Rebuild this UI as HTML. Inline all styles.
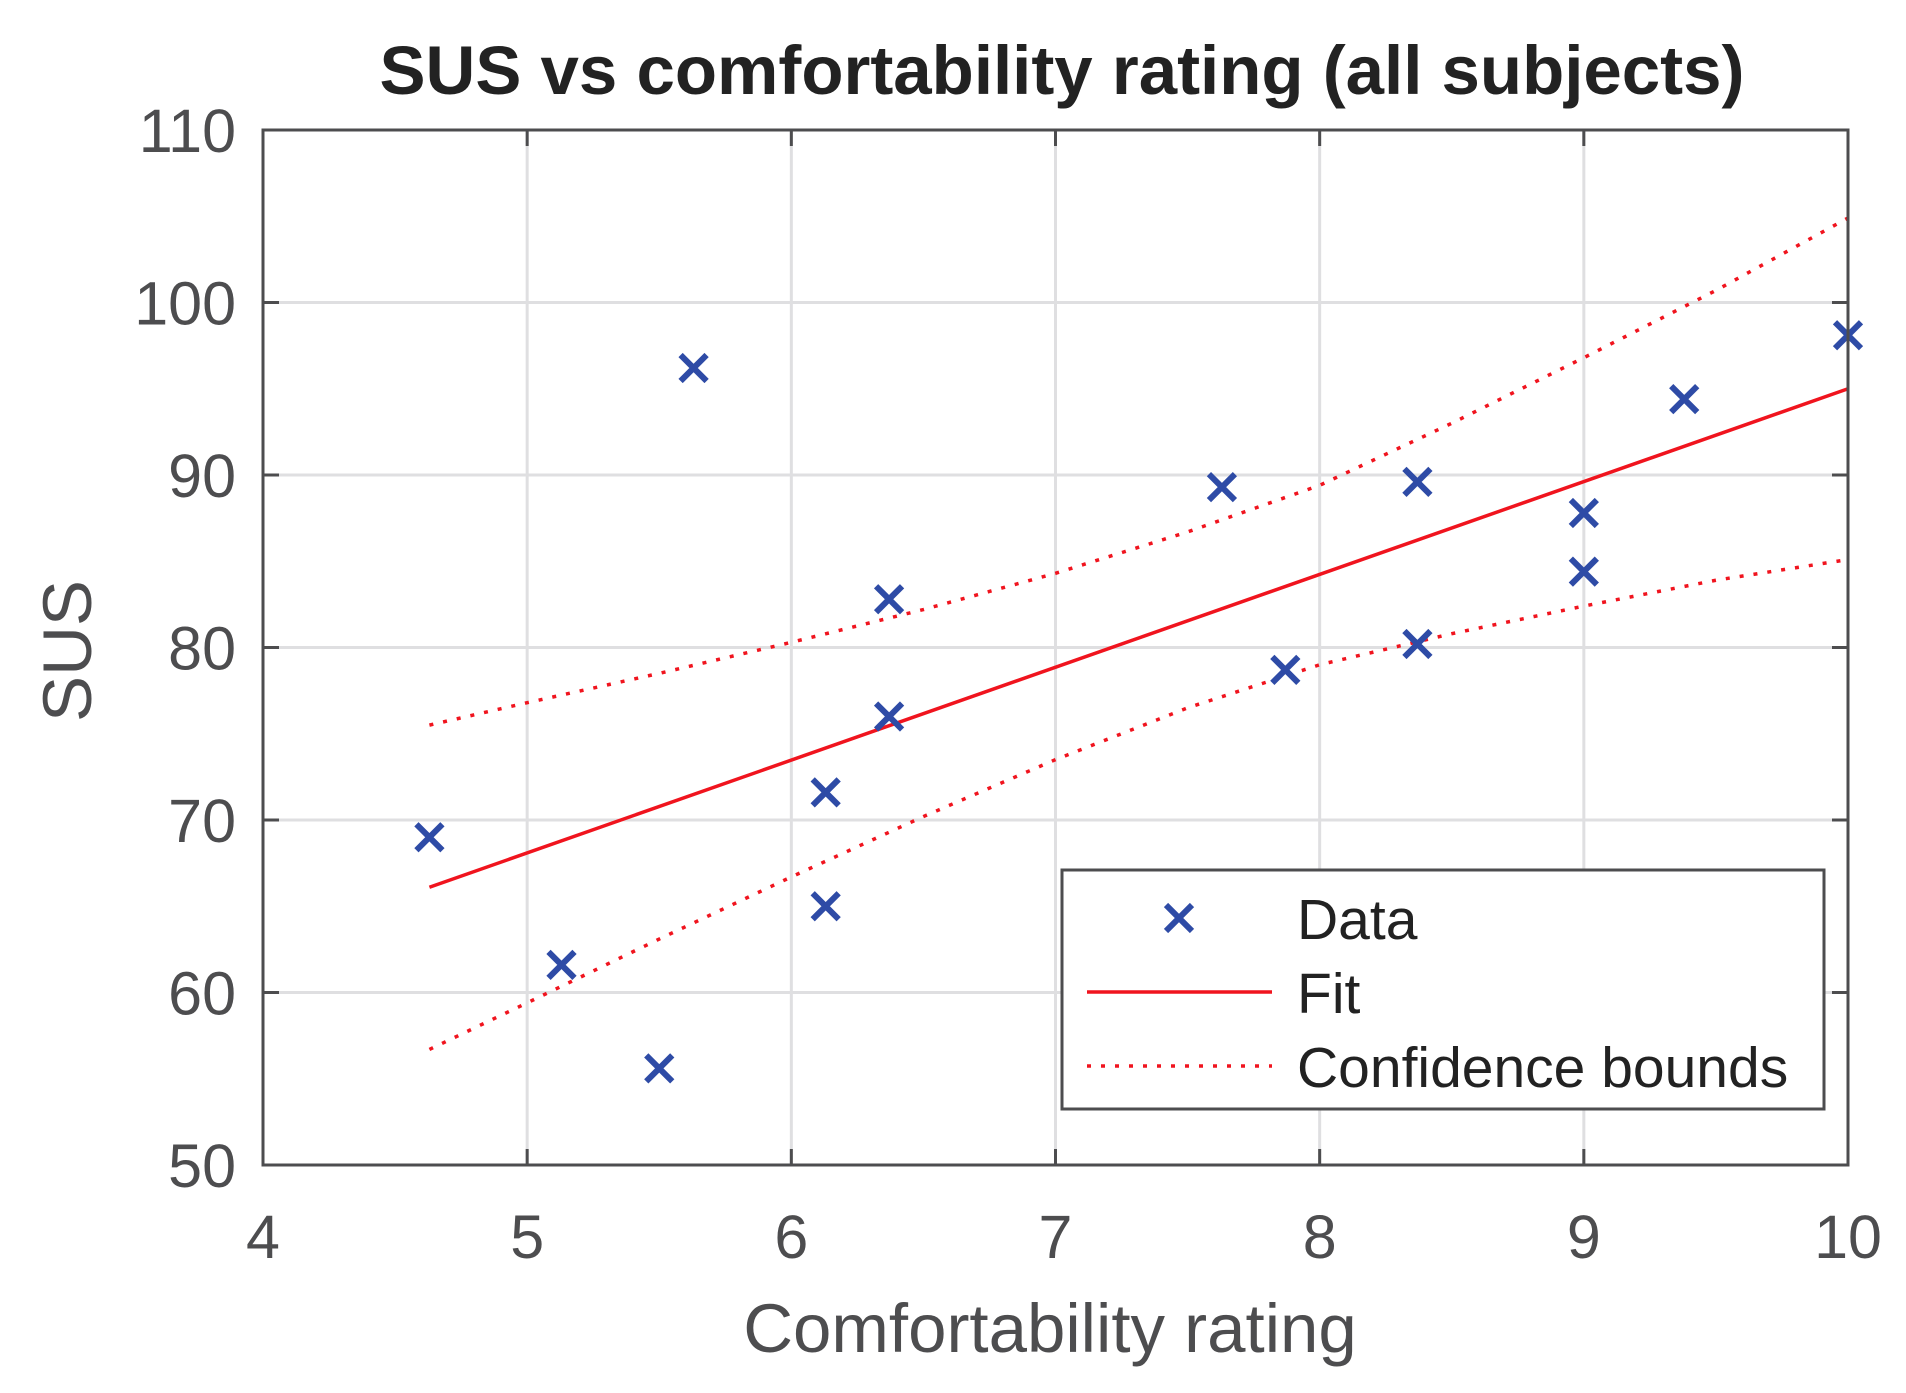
<!DOCTYPE html>
<html><head><meta charset="utf-8"><style>
html,body{margin:0;padding:0;background:#fff;}
svg{display:block;font-family:"Liberation Sans",Arial,sans-serif;}
</style></head><body>
<svg id="chart" width="1906" height="1393" viewBox="0 0 1906 1393">
<text x="1062" y="94" text-anchor="middle" font-size="69" font-weight="bold" fill="#222">SUS vs comfortability rating (all subjects)</text>
<g id="grid"></g>
<g id="ticks"></g>
<g id="series"></g>
<rect x="263" y="130" width="1585" height="1035" fill="none" stroke="#4d4d4f" stroke-width="3"/>
<text x="1050" y="1352" text-anchor="middle" font-size="69" fill="#4d4d4f">Comfortability rating</text>
<text transform="translate(91,651) rotate(-90)" text-anchor="middle" font-size="69" fill="#4d4d4f">SUS</text>
<g>
<rect x="1062" y="870" width="762" height="239" fill="#fff" stroke="#4d4d4f" stroke-width="3"/>
<g>
<path d="M1166 905 L1192 931 M1192 905 L1166 931" stroke="#2e4ba6" stroke-width="6"/>
<text x="1297" y="939" font-size="57" fill="#222">Data</text></g>
<g>
<line x1="1087" y1="992" x2="1272" y2="992" stroke="#f0141e" stroke-width="3.5"/>
<text x="1297" y="1013" font-size="57" fill="#222">Fit</text></g>
<g>
<line x1="1087" y1="1066" x2="1272" y2="1066" stroke="#f0141e" stroke-width="3.5" stroke-dasharray="4,10"/>
<text x="1297" y="1087" font-size="57" fill="#222">Confidence bounds</text></g>
</g>
</svg>
<script>
const dataX=[4.63,5.13,5.50,5.63,6.13,6.13,6.37,6.37,7.63,7.87,8.37,8.37,9.0,9.0,9.38,10.0];
const dataY=[69.0,61.6,55.6,96.2,71.6,65.0,82.8,76.0,89.3,78.7,89.6,80.2,87.8,84.4,94.4,98.1];
const fitX=[4.63,10.0];
const fitY=[66.1,95.0];
const boundX=[4.63,5.0,5.5,6.0,6.5,7.0,7.5,8.0,8.5,9.0,9.5,10.0];
const upperY=[75.5,76.8,78.5,80.3,82.2,84.3,86.7,89.4,93.0,96.8,100.7,104.9];
const lowerY=[56.7,59.4,63.1,66.7,70.2,73.5,76.5,79.0,80.8,82.4,83.9,85.1];
const xTicks=[4,5,6,7,8,9,10];
const yTicks=[50,60,70,80,90,100,110];
const NS="http://www.w3.org/2000/svg";
const L=263,R=1848,T=130,B=1165;
const sx=v=>L+(v-4)/(10-4)*(R-L);
const sy=v=>B-(v-50)/(110-50)*(B-T);
function mk(tag,attrs,parent){const e=document.createElementNS(NS,tag);for(const k in attrs)e.setAttribute(k,attrs[k]);parent.appendChild(e);return e;}
const grid=document.getElementById('grid'),ticks=document.getElementById('ticks'),series=document.getElementById('series');
xTicks.forEach(t=>{
  const x=sx(t);
  const g=mk('line',{x1:x,y1:T,x2:x,y2:B,stroke:'#dfdfe1','stroke-width':3},grid);
  
  
  mk('line',{x1:x,y1:B,x2:x,y2:B-16,stroke:'#4d4d4f','stroke-width':3},ticks);
  mk('line',{x1:x,y1:T,x2:x,y2:T+16,stroke:'#4d4d4f','stroke-width':3},ticks);
  const tx=mk('text',{x:x,y:1258,'text-anchor':'middle','font-size':61,fill:'#4d4d4f'},ticks);
  tx.textContent=t;
  
  
});
yTicks.forEach(t=>{
  const y=sy(t);
  const g=mk('line',{x1:L,y1:y,x2:R,y2:y,stroke:'#dfdfe1','stroke-width':3},grid);
  
  
  mk('line',{x1:L,y1:y,x2:L+16,y2:y,stroke:'#4d4d4f','stroke-width':3},ticks);
  mk('line',{x1:R,y1:y,x2:R-16,y2:y,stroke:'#4d4d4f','stroke-width':3},ticks);
  const tx=mk('text',{x:236,y:y+22,'text-anchor':'end','font-size':61,fill:'#4d4d4f'},ticks);
  tx.textContent=t;
  
  
});
function pts(xs,ys){return xs.map((v,i)=>sx(v)+','+sy(ys[i])).join(' ');}
const up=mk('polyline',{points:pts(boundX,upperY),fill:'none',stroke:'#f0141e','stroke-width':3.5,'stroke-dasharray':'4,10'},series);


const lo=mk('polyline',{points:pts(boundX,lowerY),fill:'none',stroke:'#f0141e','stroke-width':3.5,'stroke-dasharray':'4,10'},series);


const fl=mk('polyline',{points:pts(fitX,fitY),fill:'none',stroke:'#f0141e','stroke-width':3.5},series);


dataX.forEach((v,i)=>{
  const x=sx(v),y=sy(dataY[i]),h=13;
  const p=mk('path',{d:`M${x-h} ${y-h} L${x+h} ${y+h} M${x+h} ${y-h} L${x-h} ${y+h}`,stroke:'#2e4ba6','stroke-width':6,fill:'none'},series);
  
  
});
</script>
</body></html>
